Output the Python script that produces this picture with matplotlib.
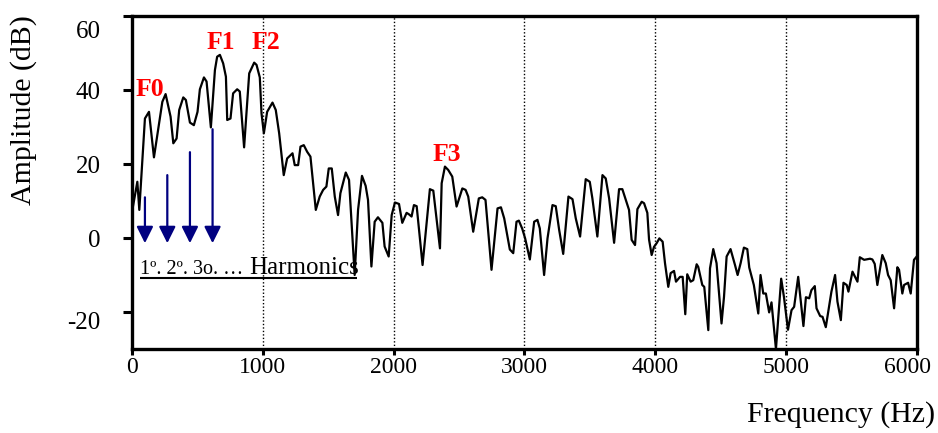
#!/usr/bin/env python3

import matplotlib
matplotlib.use('Agg')
import matplotlib.pyplot as plt
import matplotlib.transforms as mtransforms

# Spectrum: frequency [Hz], amplitude [dB]
freq = [
    0, 41, 56, 99, 130, 168, 232, 257, 295, 316, 341, 361, 392, 412, 443,
    473, 501, 519, 550, 570, 603, 634, 651, 672, 697, 718, 728, 753, 773,
    804, 824, 857, 896, 934, 952, 977, 990, 1008, 1033, 1074, 1099, 1125,
    1160, 1186, 1227, 1244, 1270, 1288, 1313, 1339, 1364, 1405, 1435, 1461,
    1486, 1504, 1527, 1550, 1575, 1593, 1634, 1659, 1702, 1728, 1758, 1786,
    1804, 1830, 1855, 1880, 1914, 1931, 1962, 1985, 2010, 2041, 2066, 2099,
    2117, 2137, 2155, 2176, 2221, 2277, 2303, 2354, 2367, 2392, 2417, 2448,
    2481, 2525, 2550, 2570, 2608, 2651, 2677, 2702, 2748, 2794, 2820, 2845,
    2888, 2914, 2939, 2957, 2983, 3005, 3041, 3074, 3099, 3117, 3150, 3176,
    3214, 3239, 3265, 3296, 3336, 3367, 3392, 3425, 3468, 3499, 3519, 3557,
    3596, 3621, 3647, 3685, 3723, 3748, 3774, 3799, 3819, 3845, 3863, 3896,
    3914, 3939, 3952, 3972, 3990, 4010, 4031, 4056, 4074, 4099, 4117, 4143,
    4158, 4189, 4209, 4229, 4244, 4270, 4290, 4316, 4328, 4359, 4374, 4405,
    4418, 4443, 4468, 4506, 4525, 4545, 4575, 4609, 4629, 4652, 4677, 4703,
    4718, 4753, 4787, 4804, 4825, 4845, 4870, 4888, 4922, 4962, 4983, 5014,
    5041, 5061, 5092, 5132, 5151, 5176, 5193, 5219, 5232, 5260, 5278, 5303,
    5346, 5374, 5392, 5418, 5438, 5463, 5476, 5507, 5545, 5563, 5596, 5641,
    5659, 5677, 5697, 5735, 5761, 5779, 5799, 5825, 5850, 5863, 5888, 5901,
    5932, 5952, 5977, 5998,
]
amp_db = [
    7.0, 15.2, 7.6, 32.3, 34.1, 21.8, 36.8, 38.9, 32.8, 25.6, 26.9, 34.6,
    38.0, 37.3, 31.2, 30.5, 34.1, 40.2, 43.4, 42.3, 29.9, 45.4, 49.0, 49.5,
    47.2, 43.6, 31.9, 32.3, 39.1, 40.2, 39.6, 24.5, 44.5, 47.4, 46.8, 43.4,
    33.7, 28.3, 34.1, 36.6, 34.6, 28.3, 17.0, 21.5, 22.9, 19.7, 19.7, 24.7,
    25.1, 23.3, 22.0, 7.6, 11.2, 13.0, 13.9, 18.8, 18.8, 11.2, 6.2, 12.1,
    17.7, 15.7, -10.0, 7.6, 16.8, 14.1, 10.3, -7.7, 4.4, 5.6, 4.1, -2.3,
    -5.0, 6.2, 9.6, 9.2, 4.1, 6.8, 6.4, 5.8, 8.9, 8.6, -7.3, 13.2, 12.8,
    -2.8, 14.8, 19.3, 18.4, 16.6, 8.5, 13.4, 13.0, 11.2, 1.7, 10.7, 11.0,
    10.3, -8.6, 8.0, 8.3, 5.3, -3.1, -4.1, 4.4, 4.7, 2.5, -0.1, -5.8, 4.4,
    4.9, 2.6, -10.0, -0.1, 8.9, 8.6, 2.2, -4.3, 11.2, 10.5, 5.3, 0.4, 15.9,
    15.2, 10.7, 0.4, 17.0, 16.1, 10.7, -1.3, 13.2, 13.2, 10.3, 7.6, -0.5,
    -1.9, 7.8, 9.8, 9.4, 6.8, -0.4, -4.6, -2.4, -1.4, -0.1, -1.0, -6.8,
    -13.2, -9.5, -8.9, -11.8, -10.5, -10.5, -20.6, -9.8, -11.8, -11.4,
    -7.1, -7.8, -12.7, -13.2, -24.9, -8.2, -3.0, -6.8, -23.1, -15.9, -5.0,
    -3.0, -7.3, -10.0, -6.8, -2.6, -3.0, -8.0, -12.7, -20.4, -10.0, -15.0,
    -15.0, -20.1, -17.4, -30.0, -11.0, -15.9, -24.8, -19.5, -18.6, -10.5,
    -23.8, -16.0, -16.3, -14.1, -13.0, -19.0, -21.1, -21.3, -24.1, -14.5,
    -10.0, -17.2, -22.2, -12.1, -12.7, -14.5, -9.1, -11.8, -5.2, -5.9,
    -5.6, -5.8, -7.0, -12.7, -4.6, -6.8, -10.0, -11.4, -19.0, -7.9, -8.6,
    -15.0, -12.7, -12.1, -15.0, -5.9, -5.0,
]

# Harmonic arrows (frequency, top of arrow in dB)
harm_freq = [99, 270, 443, 616]
harm_top = [11.0, 17.0, 23.2, 29.4]
harm_tip = -1.4

# Formant labels
formant_names = ['F0', 'F1', 'F2', 'F3']
formant_freq = [137, 683, 1027, 2408]
formant_db = [40.1, 52.8, 52.8, 22.7]

x_ticks = [0, 1000, 2000, 3000, 4000, 5000, 6000]
y_ticks = [-20, 0, 20, 40, 60]
grid_freq = [1000, 2000, 3000, 4000, 5000]


def nudge(label, fig, dx_pt, dy_pt):
    ''' Move a tick label by a few points '''
    shift = mtransforms.ScaledTranslation(dx_pt / 72, dy_pt / 72,
                                          fig.dpi_scale_trans)
    label.set_transform(label.get_transform() + shift)


def main():
    plt.rcParams['font.family'] = ['Liberation Serif', 'DejaVu Serif']
    plt.rcParams['axes.unicode_minus'] = False

    fig = plt.figure(figsize=(9.38, 4.33), dpi=100)
    ax = fig.add_axes([0.1407, 0.194, 0.8369, 0.769])

    for g in grid_freq:
        ax.axvline(g, color='black', linestyle=(0, (1, 1.5)), linewidth=1.0,
                   zorder=1)

    ax.plot(freq, amp_db, color='black', linewidth=1.6, zorder=3)

    # harmonics arrows
    for f, top in zip(harm_freq, harm_top):
        ax.annotate(
            '', xy=(f, harm_tip), xytext=(f, top),
            arrowprops=dict(
                arrowstyle='-|>,head_length=0.5,head_width=0.25',
                color='#000080', linewidth=1.6, mutation_scale=20,
                shrinkA=0, shrinkB=0),
            zorder=4)

    ax.text(61, -9.6, '1º. 2º. 3o. …', fontsize=14.5, va='baseline',
            ha='left', zorder=5)
    ax.text(893, -9.6, 'Harmonics', fontsize=18, va='baseline',
            ha='left', zorder=5)
    ax.plot([61, 1718], [-10.9, -10.9], color='black', linewidth=1.5,
            solid_capstyle='butt', zorder=5)

    for name, f, db in zip(formant_names, formant_freq, formant_db):
        ax.text(f, db, name, color='red', fontweight='bold', fontsize=18.5,
                ha='center', va='center', zorder=6)

    ax.set_xlim(0, 6000)
    ax.set_ylim(-30, 60)
    ax.set_xticks(x_ticks)
    ax.set_yticks(y_ticks)
    ax.tick_params(axis='x', direction='out', length=4, width=2.2,
                   labelsize=17, pad=2)
    ax.tick_params(axis='y', direction='out', length=6.5, width=2.2,
                   labelsize=18, pad=16)

    # the original labels are not quite centred on their ticks
    nudge(ax.xaxis.get_major_ticks()[-1].label1, fig, -7, 0)
    nudge(ax.yaxis.get_major_ticks()[-1].label1, fig, 0, -10)
    nudge(ax.yaxis.get_major_ticks()[0].label1, fig, 0, -6)

    for side in ['left', 'right', 'top', 'bottom']:
        ax.spines[side].set_linewidth(2.4)

    ax.set_ylabel('Amplitude (dB)', fontsize=21.5)
    ax.yaxis.set_label_coords(-0.121, 0.718)
    fig.text(935 / 938, 1 - 415 / 433, 'Frequency (Hz)', fontsize=21.5,
             ha='right', va='center')

    fig.savefig('out.png', dpi=100)


if __name__ == '__main__':
    main()
